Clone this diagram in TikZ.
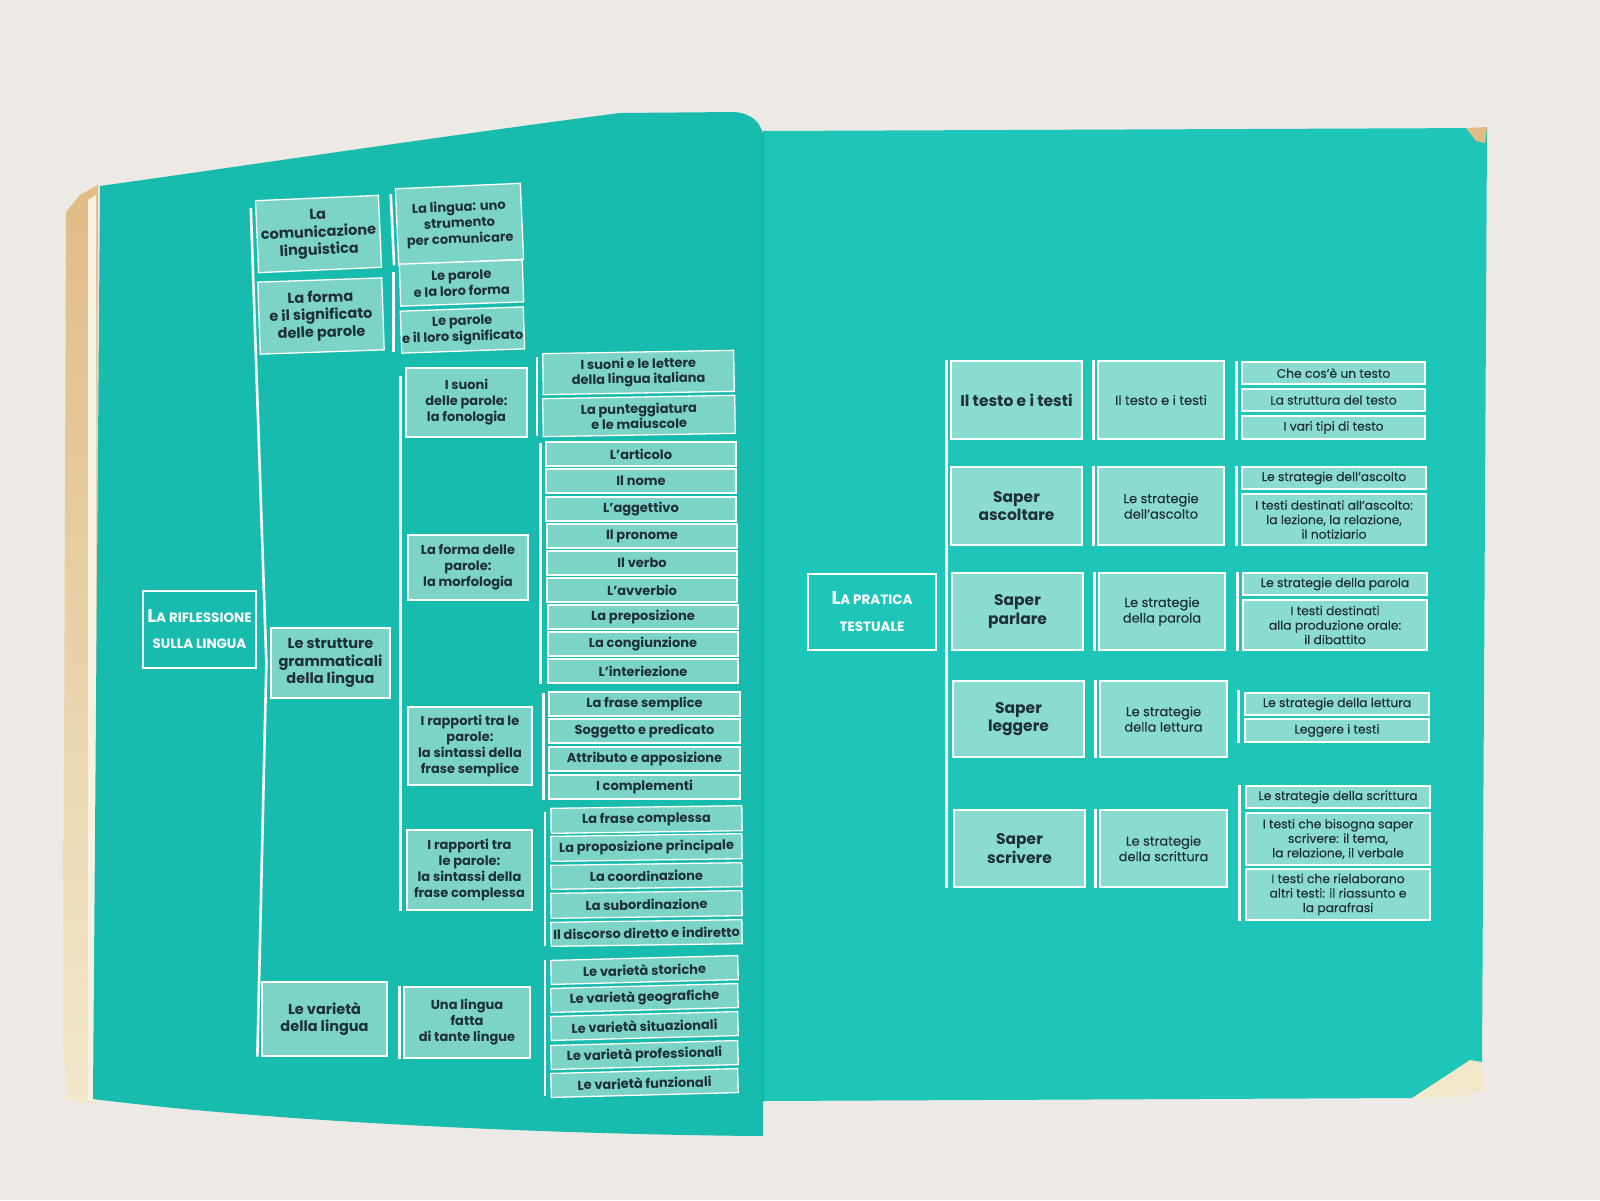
\documentclass[tikz,border=0pt]{standalone}
\usepackage{fontspec}
\setmainfont{Poppins}
\newfontfamily\medfont{Poppins}[FakeBold=0.3]
\definecolor{bgc}{HTML}{EDE9E5}
\definecolor{pageL}{HTML}{18BCAE}
\definecolor{pageR}{HTML}{1EC6B9}
\definecolor{boxL}{HTML}{7CD4C6}
\definecolor{boxR}{HTML}{8ADCD0}
\definecolor{ink}{HTML}{1F3038}
\definecolor{tanc}{HTML}{E0BC86}
\definecolor{creamc}{HTML}{F1E7CB}
\newcommand\bx[7][]{%
 \pgfmathsetmacro\bxw{(#5)-(#3)}\pgfmathsetmacro\bxh{(#6)-(#4)}%
 \pgfmathsetmacro\bxx{((#3)+(#5))/2}\pgfmathsetmacro\bxy{((#4)+(#6))/2}%
 \node[box,#1,minimum width=\bxw pt,minimum height=\bxh pt] (#2) at (\bxx,\bxy) {#7};}
\begin{document}
\begin{tikzpicture}[x=1pt,y=-1pt,
 box/.style={draw=white,line width=1.3pt,fill=boxL,text=ink,inner sep=0pt,align=center},
 ttl/.style={box,line width=1.6pt,text=white},
 bar/.style={draw=white,line width=2.6pt},
 fB/.style={font=\fontsize{14.5}{17.5}\selectfont\bfseries},
 fC/.style={font=\fontsize{13}{16}\selectfont\bfseries},
 fD/.style={font=\fontsize{13}{15}\selectfont\bfseries},
 fR1/.style={fill=boxR,font=\fontsize{15.5}{18.5}\selectfont\bfseries},
 fR2/.style={fill=boxR,font=\fontsize{13}{15.5}\selectfont\medfont},
 fR3/.style={fill=boxR,font=\fontsize{12.3}{14.5}\selectfont\medfont}]
\useasboundingbox (0,0) rectangle (1600,1200);
% background and book
\fill[bgc] (0,0) rectangle (1600,1200);
\shade[top color=tanc,bottom color=creamc] (98,185) -- (80,195) -- (66,212) -- (63,1050) -- (68,1100) -- (96,1104) -- cycle;
\fill[creamc!60!white] (88,200) -- (96,195) -- (96,1100) -- (88,1100) -- cycle;
\fill[pageL] (100,186) .. controls (250,165) and (450,135) .. (620,113) -- (735,112) .. controls (752,114) and (760,122) .. (763,134) -- (763,1136) .. controls (600,1135) and (300,1125) .. (93,1099) -- cycle;
\fill[pageR] (763,131) -- (1487,128) -- (1482,1063) -- (1412,1098) -- (763,1101) -- cycle;
\draw[black,opacity=0.15,line width=1pt] (763,131) -- (763,1101);
\fill[tanc] (1466,128) -- (1487,127) -- (1485,143) -- (1476,141) -- cycle;
\fill[creamc] (1412,1098) -- (1470,1060) -- (1482,1062) -- (1484,1090) -- (1460,1097) -- cycle;
% ---------- left page ----------
\bx[ttl,fill=pageL,font=\fontsize{13.5}{26}\selectfont\bfseries]{T1}{143}{591}{256}{668}{{\fontsize{18.5}{26}\selectfont L}A RIFLESSIONE\\SULLA LINGUA}
\bx[fB,rotate=2.5]{B1}{257}{198}{380}{270}{La\\comunicazione\\linguistica}
\bx[fB,rotate=2]{B2}{259}{280}{383}{352}{La forma\\e il significato\\delle parole}
\bx[fB]{B3}{271}{628}{390}{698}{Le strutture\\grammaticali\\della lingua}
\bx[fB]{B4}{262}{982}{387}{1056}{Le varietà\\della lingua}
\draw[bar] ([xshift=-4pt,yshift=-8pt]B1.north west) -- ([xshift=-4pt]B3.west) -- ([xshift=-4pt]B4.south west);
\bx[fC,rotate=2.5]{C1}{397}{186}{522}{262}{La lingua: uno\\strumento\\per comunicare}
\bx[fC,rotate=2]{C2}{400}{262}{523}{304}{Le parole\\e la loro forma}
\bx[fC,rotate=2]{C3}{401}{309}{524}{351}{Le parole\\e il loro significato}
\bx[fC]{C4}{406}{368}{527}{437}{I suoni\\delle parole:\\la fonologia}
\bx[fC]{C5}{408}{535}{528}{600}{La forma delle\\parole:\\la morfologia}
\bx[fC]{C6}{408}{707}{532}{785}{I rapporti tra le\\parole:\\la sintassi della\\frase semplice}
\bx[fC]{C7}{407}{830}{532}{910}{I rapporti tra\\le parole:\\la sintassi della\\frase complessa}
\bx[fC]{C8}{404}{987}{530}{1058}{Una lingua\\fatta\\di tante lingue}
\draw[bar] ([xshift=-4pt,yshift=-6pt]C1.north west) -- ([xshift=-4pt]C1.south west);
\draw[bar] ([xshift=-5pt,yshift=-8pt]C2.north west) -- ([xshift=-5pt]C2.north west |- C3.south);
\draw[bar] ([xshift=-5pt,yshift=-9pt]C4.north west) -- ([xshift=-5pt]C4.north west |- C7.south);
\draw[bar] ([xshift=-4pt]C8.north west) -- ([xshift=-4pt]C8.south west);
% level 3
\bx[fD,rotate=1]{D1}{543}{352}{734}{393}{I suoni e le lettere\\della lingua italiana}
\bx[fD,rotate=1]{D2}{543}{397}{735}{435}{La punteggiatura\\e le maiuscole}
\draw[bar] ([xshift=-5pt,yshift=-4pt]D1.north west) -- ([xshift=-5pt]D1.north west |- D2.south);
\bx[fD]{D3}{546}{442}{736}{466}{L’articolo}
\bx[fD]{D4}{546}{469}{736}{493}{Il nome}
\bx[fD]{D5}{546}{497}{736}{521}{L’aggettivo}
\bx[fD]{D6}{547}{524}{737}{548}{Il pronome}
\bx[fD]{D7}{547}{551}{737}{575}{Il verbo}
\bx[fD]{D8}{547}{578}{737}{602}{L’avverbio}
\bx[fD]{D9}{548}{605}{738}{629}{La preposizione}
\bx[fD]{D10}{548}{632}{738}{656}{La congiunzione}
\bx[fD]{D11}{548}{659}{738}{683}{L’interiezione}
\draw[bar] ([xshift=-5pt,yshift=-2pt]D3.north west) -- ([xshift=-5pt]D3.north west |- D11.south);
\bx[fD]{D12}{549}{692}{740}{716}{La frase semplice}
\bx[fD]{D13}{549}{719}{740}{743}{Soggetto e predicato}
\bx[fD]{D14}{549}{747}{740}{771}{Attributo e apposizione}
\bx[fD]{D15}{549}{775}{740}{799}{I complementi}
\draw[bar] ([xshift=-5pt,yshift=-2pt]D12.north west) -- ([xshift=-5pt]D12.north west |- D15.south);
\bx[fD,rotate=0.8]{D16}{551}{807}{742}{832}{La frase complessa}
\bx[fD,rotate=0.8]{D17}{551}{835}{742}{860}{La proposizione principale}
\bx[fD,rotate=0.8]{D18}{551}{864}{742}{888}{La coordinazione}
\bx[fD,rotate=0.8]{D19}{551}{892}{742}{917}{La subordinazione}
\bx[fD,rotate=0.8]{D20}{551}{921}{742}{945}{Il discorso diretto e indiretto}
\draw[bar] ([xshift=-5pt,yshift=-4pt]D16.north west) -- ([xshift=-5pt]D16.north west |- D20.south);
\bx[fD,rotate=1.5]{D21}{551}{958}{738}{982}{Le varietà storiche}
\bx[fD,rotate=1.5]{D22}{551}{986}{738}{1010}{Le varietà geografiche}
\bx[fD,rotate=1.5]{D23}{551}{1014}{738}{1038}{Le varietà situazionali}
\bx[fD,rotate=1.5]{D24}{551}{1043}{738}{1067}{Le varietà professionali}
\bx[fD,rotate=1.5]{D25}{551}{1071}{738}{1095}{Le varietà funzionali}
\draw[bar] ([xshift=-5pt]D21.north west) -- ([xshift=-5pt]D21.north west |- D25.south);
% ---------- right page ----------
\bx[ttl,fill=pageR,font=\fontsize{13.5}{27}\selectfont\bfseries]{T2}{808}{574}{936}{650}{{\fontsize{18.5}{27}\selectfont L}A PRATICA\\TESTUALE}
\bx[fR1]{R11}{951}{361}{1082}{439}{Il testo e i testi}
\bx[fR1]{R21}{951}{467}{1082}{545}{Saper\\ascoltare}
\bx[fR1]{R31}{952}{573}{1083}{650}{Saper\\parlare}
\bx[fR1]{R41}{953}{681}{1084}{757}{Saper\\leggere}
\bx[fR1]{R51}{954}{810}{1085}{887}{Saper\\scrivere}
\draw[bar] ([xshift=-4pt]R11.north west) -- ([xshift=-4pt]R11.north west |- R51.south);
\bx[fR2]{R12}{1098}{361}{1224}{439}{Il testo e i testi}
\bx[fR2]{R22}{1098}{467}{1224}{545}{Le strategie\\dell’ascolto}
\bx[fR2]{R32}{1099}{573}{1225}{650}{Le strategie\\della parola}
\bx[fR2]{R42}{1100}{681}{1227}{757}{Le strategie\\della lettura}
\bx[fR2]{R52}{1100}{810}{1227}{887}{Le strategie\\della scrittura}
\foreach \n in {R12,R22,R32,R42,R52}
  \draw[bar] ([xshift=-4pt]\n.north west) -- ([xshift=-4pt]\n.south west);
\bx[fR3]{S1}{1242}{362}{1425}{384}{Che cos’è un testo}
\bx[fR3]{S2}{1242}{389}{1425}{411}{La struttura del testo}
\bx[fR3]{S3}{1242}{416}{1425}{439}{I vari tipi di testo}
\bx[fR3]{S4}{1242}{467}{1426}{489}{Le strategie dell’ascolto}
\bx[fR3]{S5}{1242}{494}{1426}{545}{I testi destinati all’ascolto:\\la lezione, la relazione,\\il notiziario}
\bx[fR3]{S6}{1243}{573}{1427}{595}{Le strategie della parola}
\bx[fR3]{S7}{1243}{600}{1427}{650}{I testi destinati\\alla produzione orale:\\il dibattito}
\bx[fR3]{S8}{1245}{693}{1429}{715}{Le strategie della lettura}
\bx[fR3]{S9}{1245}{719}{1429}{742}{Leggere i testi}
\bx[fR3]{S10}{1246}{786}{1430}{808}{Le strategie della scrittura}
\bx[fR3]{S11}{1246}{813}{1430}{865}{I testi che bisogna saper\\scrivere: il tema,\\la relazione, il verbale}
\bx[fR3]{S12}{1246}{869}{1430}{920}{I testi che rielaborano\\altri testi: il riassunto e\\la parafrasi}
\draw[bar] ([xshift=-5pt]S1.north west) -- ([xshift=-5pt]S1.north west |- S3.south);
\draw[bar] ([xshift=-5pt]S4.north west) -- ([xshift=-5pt]S4.north west |- S5.south);
\draw[bar] ([xshift=-5pt]S6.north west) -- ([xshift=-5pt]S6.north west |- S7.south);
\draw[bar] ([xshift=-6pt,yshift=2pt]S8.north west) -- ([xshift=-6pt]S8.north west |- S9.south);
\draw[bar] ([xshift=-6pt]S10.north west) -- ([xshift=-6pt]S10.north west |- S12.south);
\end{tikzpicture}
\end{document}
